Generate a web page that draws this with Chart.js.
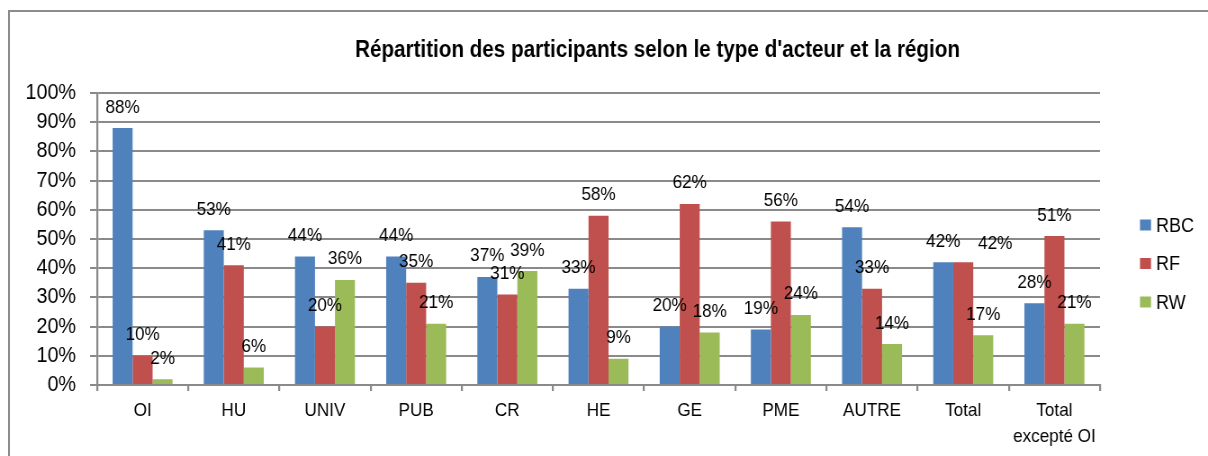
<!DOCTYPE html>
<html>
<head>
<meta charset="utf-8">
<script src="https://cdn.jsdelivr.net/npm/chart.js@4/dist/chart.umd.min.js"></script>
<style>
  html, body { margin: 0; padding: 0; background: #fff; overflow: hidden; }
  #wrap { position: relative; width: 1208px; height: 456px; overflow: hidden; }
  #frame { position: absolute; left: 8px; top: 10px; width: 1300px; height: 600px;
           border-left: 2px solid #8c8c8c; border-top: 2px solid #8c8c8c; box-sizing: border-box; }
  canvas { position: absolute; left: 0; top: 0; }
</style>
</head>
<body>
<div id="wrap">
  <div id="frame"></div>
  <canvas id="c" width="1342" height="456" style="width:1208px;height:456px"></canvas>
</div>
<script>
const TITLE = "Répartition des participants selon le type d'acteur et la région";
const categories = ["OI", "HU", "UNIV", "PUB", "CR", "HE", "GE", "PME", "AUTRE", "Total", ["Total", "excepté OI"]];
const seriesNames = ["RBC", "RF", "RW"];
const RBC = [88, 53, 44, 44, 37, 33, 20, 19, 54, 42, 28];
const RF  = [10, 41, 20, 35, 31, 58, 62, 56, 33, 42, 51];
const RW  = [2, 6, 36, 21, 39, 9, 18, 24, 14, 17, 21];
const colors = ["#4F81BD", "#C0504D", "#9BBB59"];
const yTicks = [0, 10, 20, 30, 40, 50, 60, 70, 80, 90, 100];

const FONT = "'Liberation Sans', Arial, sans-serif";
// the picture is drawn on a wider canvas and displayed horizontally compressed
const S = 1208 / 1342;
const X = v => v / S;

// manual label nudges (dataset-index:category-index -> [dx, dy] in screen px)
const labelNudge = { "1:9": [32, 2] };

const dataLabels = {
  id: 'dataLabels',
  afterDatasetsDraw(chart) {
    const ctx = chart.ctx;
    ctx.save();
    ctx.font = "19px " + FONT;
    ctx.fillStyle = "#000";
    ctx.textAlign = "center";
    ctx.textBaseline = "alphabetic";
    chart.data.datasets.forEach((ds, i) => {
      const meta = chart.getDatasetMeta(i);
      meta.data.forEach((el, j) => {
        const n = labelNudge[i + ":" + j] || [0, 0];
        ctx.fillText(ds.data[j] + "%", el.x + X(n[0]), el.y - 15.5 + n[1]);
      });
    });
    ctx.restore();
  }
};

const titleAndLegend = {
  id: 'titleAndLegend',
  afterDraw(chart) {
    const ctx = chart.ctx;
    ctx.save();
    ctx.font = "bold 23px " + FONT;
    ctx.fillStyle = "#000";
    ctx.textBaseline = "alphabetic";
    ctx.textAlign = "center";
    const w = ctx.measureText(TITLE).width;
    const sx = X(605) / w;
    ctx.translate(X(657.5), 56.5);
    ctx.scale(sx, 1);
    ctx.fillText(TITLE, 0, 0);
    ctx.restore();
    ctx.save();
    ctx.font = "20px " + FONT;
    ctx.textAlign = "left";
    ctx.textBaseline = "middle";
    const centers = [225, 263.5, 302];
    chart.data.datasets.forEach((ds, i) => {
      ctx.fillStyle = ds.backgroundColor;
      ctx.fillRect(X(1140), centers[i] - 5.5, X(11), 11);
      ctx.fillStyle = "#000";
      ctx.fillText(ds.label, X(1156), centers[i] + 1);
    });
    ctx.restore();
  }
};

new Chart(document.getElementById('c'), {
  type: 'bar',
  data: {
    labels: categories,
    datasets: [
      { label: seriesNames[0], data: RBC, backgroundColor: colors[0] },
      { label: seriesNames[1], data: RF,  backgroundColor: colors[1] },
      { label: seriesNames[2], data: RW,  backgroundColor: colors[2] }
    ]
  },
  options: {
    responsive: false,
    animation: false,
    devicePixelRatio: 1,
    layout: { padding: { left: 0, top: 93, right: 1342 - X(1100), bottom: 0 } },
    datasets: { bar: { categoryPercentage: 0.658, barPercentage: 1.0 } },
    plugins: {
      legend: { display: false },
      title: { display: false },
      tooltip: { enabled: false }
    },
    scales: {
      x: {
        afterFit(scale) { scale.height = 71; },
        grid: { offset: true, drawOnChartArea: false, drawTicks: true, tickLength: 6, color: "#8a8a8a", lineWidth: X(2) },
        border: { display: true, color: "#8a8a8a", width: 2 },
        ticks: { color: "#000", font: { family: FONT, size: 19, lineHeight: 1.37 }, padding: 7, maxRotation: 0, autoSkip: false }
      },
      y: {
        min: 0, max: 100,
        afterFit(scale) { scale.width = X(97); },
        afterBuildTicks(scale) { scale.ticks = yTicks.map(v => ({ value: v })); },
        grid: { color: "#8a8a8a", lineWidth: 2, drawTicks: true, tickLength: X(7) },
        border: { display: true, color: "#8a8a8a", width: X(2) },
        ticks: { color: "#000", font: { family: FONT, size: 22, lineHeight: 1.0 }, padding: X(14), autoSkip: false, callback: v => v + "%" }
      }
    }
  },
  plugins: [dataLabels, titleAndLegend]
});
</script>
</body>
</html>
